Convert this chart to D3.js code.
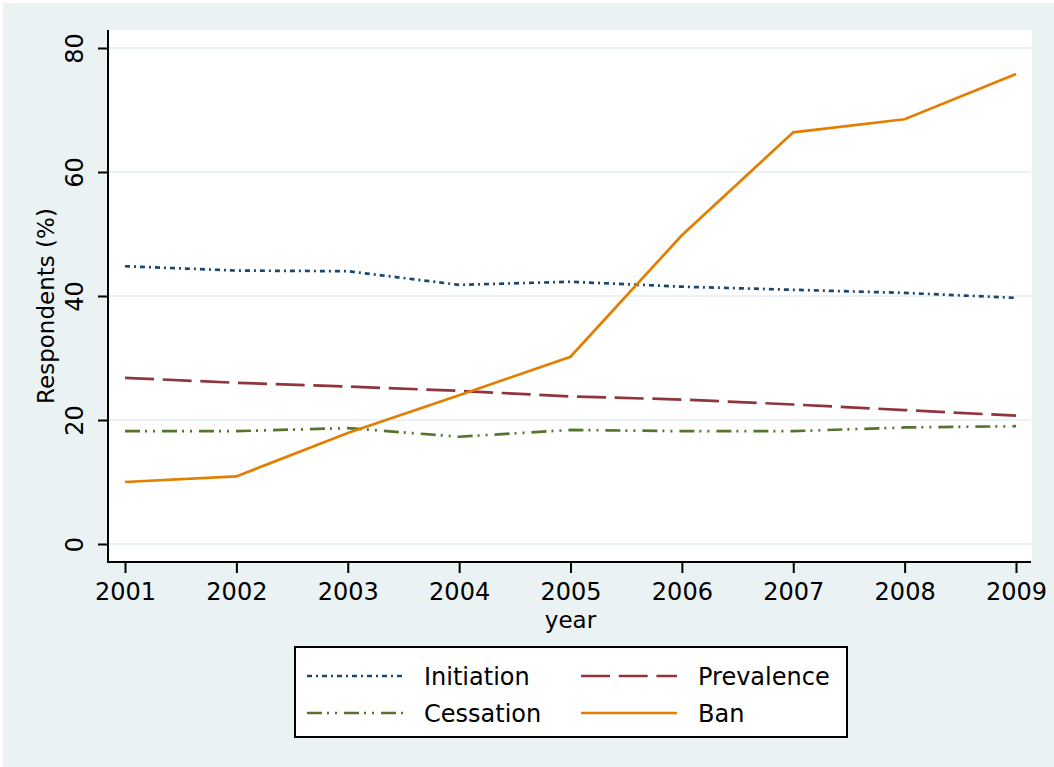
<!DOCTYPE html>
<html>
<head>
<meta charset="utf-8">
<script src="https://cdnjs.cloudflare.com/ajax/libs/d3/7.8.5/d3.min.js"></script>
<style>
  html, body { margin: 0; padding: 0; background: #ffffff; }
  svg { display: block; }
  text { font-family: "DejaVu Sans", sans-serif; fill: #000; }
</style>
</head>
<body>
<script>
// ---- data ----
const years = [2001, 2002, 2003, 2004, 2005, 2006, 2007, 2008, 2009];
const initiation = [44.8, 44.1, 44.0, 41.8, 42.3, 41.5, 41.0, 40.5, 39.7];
const prevalence = [26.8, 26.0, 25.4, 24.7, 23.8, 23.3, 22.5, 21.6, 20.7];
const cessation = [18.2, 18.2, 18.7, 17.3, 18.4, 18.2, 18.2, 18.8, 19.0];
const ban = [10.0, 10.9, 17.9, 24.0, 30.2, 49.8, 66.4, 68.5, 75.8];
const yTicks = [0, 20, 40, 60, 80];
const seriesNames = ["Initiation", "Prevalence", "Cessation", "Ban"];
const seriesValues = [initiation, prevalence, cessation, ban];
const seriesColors = ["#1a476f", "#90353b", "#55752f", "#e37e00"];
const seriesDash = ["5,4,2,4", "29,8.7", "15,5,2,6,2,7", null];

// ---- layout ----
const W = 1054, H = 767;
const plot = { left: 108, right: 1032, top: 30, bottom: 562 };
const bg = "#eaf2f3";

const svg = d3.select("body").append("svg").attr("width", W).attr("height", H);
svg.append("rect").attr("x", 3).attr("y", 3).attr("width", W - 3).attr("height", H - 3).attr("fill", bg);
svg.append("rect").attr("x", plot.left).attr("y", plot.top)
  .attr("width", plot.right - plot.left).attr("height", plot.bottom - plot.top).attr("fill", "#fff");

const x = d3.scaleLinear().domain([2001, 2009]).range([125, 1016]);
const y = d3.scaleLinear().domain([0, 80]).range([544, 48]);

// gridlines
svg.append("g").selectAll("line").data(yTicks).join("line")
  .attr("x1", plot.left).attr("x2", plot.right - 1)
  .attr("y1", d => y(d)).attr("y2", d => y(d))
  .attr("stroke", bg).attr("stroke-width", 2);

// lines
const line = d3.line().x((d, i) => x(years[i])).y(d => y(d));
seriesValues.forEach((vals, k) => {
  svg.append("path").datum(vals)
    .attr("d", line)
    .attr("fill", "none")
    .attr("stroke", seriesColors[k])
    .attr("stroke-width", 2.7)
    .attr("stroke-dasharray", seriesDash[k]);
});

// y axis
const yAxis = svg.append("g").attr("transform", `translate(${plot.left},0)`)
  .call(d3.axisLeft(y).tickValues(yTicks).tickSize(10).tickFormat(d3.format("d")));
yAxis.select(".domain").remove();
yAxis.selectAll(".tick line").attr("stroke", "#000").attr("stroke-width", 2);
yAxis.selectAll(".tick text")
  .attr("transform", "rotate(-90)")
  .attr("x", 0).attr("y", -25).attr("dy", 0)
  .attr("text-anchor", "middle")
  .style("font-size", "24px").style("font-family", "DejaVu Sans, sans-serif");

// x axis
const xAxis = svg.append("g").attr("transform", `translate(0,${plot.bottom})`)
  .call(d3.axisBottom(x).tickValues(years).tickSize(11).tickFormat(d3.format("d")));
xAxis.select(".domain").remove();
xAxis.selectAll(".tick line").attr("stroke", "#000").attr("stroke-width", 2);
xAxis.selectAll(".tick text")
  .attr("y", 38).attr("dy", 0)
  .style("font-size", "24px").style("font-family", "DejaVu Sans, sans-serif");

// axis lines
svg.append("line").attr("x1", plot.left).attr("x2", plot.left)
  .attr("y1", plot.top).attr("y2", plot.bottom + 1).attr("stroke", "#000").attr("stroke-width", 2);
svg.append("line").attr("x1", plot.left - 1).attr("x2", plot.right - 1)
  .attr("y1", plot.bottom).attr("y2", plot.bottom).attr("stroke", "#000").attr("stroke-width", 2);

// axis titles
svg.append("text").attr("x", (x(2001) + x(2009)) / 2).attr("y", 628)
  .attr("text-anchor", "middle").style("font-size", "23px").text("year");
svg.append("text").attr("transform", `translate(54,${(y(0) + y(80)) / 2 + 10}) rotate(-90)`)
  .attr("text-anchor", "middle").style("font-size", "23px").text("Respondents (%)");

// legend
const lg = svg.append("g");
lg.append("rect").attr("x", 295).attr("y", 647).attr("width", 552).attr("height", 90)
  .attr("fill", "#fff").attr("stroke", "#000").attr("stroke-width", 2);
const legPos = [[307, 676], [581, 676], [307, 713], [581, 713]];
seriesNames.forEach((name, k) => {
  const [lx, ly] = legPos[k];
  lg.append("line").attr("x1", lx).attr("x2", lx + 96).attr("y1", ly).attr("y2", ly)
    .attr("stroke", seriesColors[k]).attr("stroke-width", 2.7)
    .attr("stroke-dasharray", seriesDash[k]);
  lg.append("text").attr("x", lx + 117).attr("y", ly + 9)
    .style("font-size", "24px").text(name);
});
</script>
</body>
</html>
